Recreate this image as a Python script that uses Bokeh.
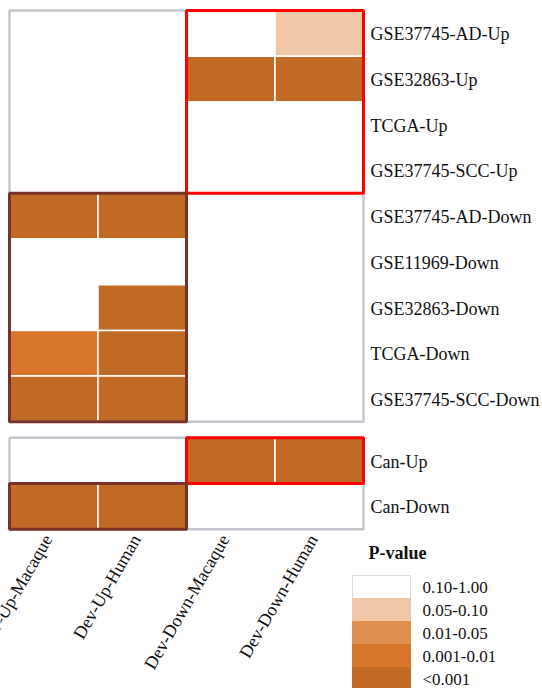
import math
from bokeh.plotting import figure
from bokeh.models import ColumnDataSource, Range1d
from bokeh.core.properties import value
from bokeh.embed import file_html
from bokeh.resources import INLINE

# ---------------- data ----------------
columns = ["Dev-Up-Macaque", "Dev-Up-Human", "Dev-Down-Macaque", "Dev-Down-Human"]

top_rows = ["GSE37745-AD-Up", "GSE32863-Up", "TCGA-Up", "GSE37745-SCC-Up",
            "GSE37745-AD-Down", "GSE11969-Down", "GSE32863-Down", "TCGA-Down",
            "GSE37745-SCC-Down"]
bottom_rows = ["Can-Up", "Can-Down"]

legend_labels = ["0.10-1.00", "0.05-0.10", "0.01-0.05", "0.001-0.01", "<0.001"]
legend_colors = ["#ffffff", "#f0c8a7", "#e08f50", "#d7752a", "#c06a25"]

# p-value class (index into legend_labels) per row, per column
top_levels = [
    [0, 0, 0, 1],
    [0, 0, 4, 4],
    [0, 0, 0, 0],
    [0, 0, 0, 0],
    [4, 4, 0, 0],
    [0, 0, 0, 0],
    [0, 4, 0, 0],
    [3, 4, 0, 0],
    [4, 4, 0, 0],
]
bottom_levels = [
    [0, 0, 4, 4],
    [4, 4, 0, 0],
]

# highlighted groups: (panel, row names, column names, colour)
highlight_groups = [
    ("top", ["GSE37745-AD-Up", "GSE32863-Up", "TCGA-Up", "GSE37745-SCC-Up"],
     ["Dev-Down-Macaque", "Dev-Down-Human"], "#ff0000"),
    ("top", ["GSE37745-AD-Down", "GSE11969-Down", "GSE32863-Down", "TCGA-Down", "GSE37745-SCC-Down"],
     ["Dev-Up-Macaque", "Dev-Up-Human"], "#7a3127"),
    ("bottom", ["Can-Up"], ["Dev-Down-Macaque", "Dev-Down-Human"], "#ff0000"),
    ("bottom", ["Can-Down"], ["Dev-Up-Macaque", "Dev-Up-Human"], "#7a3127"),
]

# ---------------- layout (pixels) ----------------
W, H = 542, 688
LEFT_PX, TOP_PX = 9.0, 10.0
CW, RH = 88.5, 45.7
GAP = 16.0 / RH

SERIF = value("Liberation Serif")

p = figure(width=W, height=H, output_backend="svg", toolbar_location=None,
           x_axis_type=None, y_axis_type=None,
           x_range=Range1d(-LEFT_PX / CW, (W - LEFT_PX) / CW),
           y_range=Range1d((H - TOP_PX) / RH, -TOP_PX / RH),
           min_border=0, min_border_left=0, min_border_right=0,
           min_border_top=0, min_border_bottom=0)
p.outline_line_color = None
p.grid.visible = False
p.background_fill_color = "white"
p.border_fill_color = "white"

n_top = len(top_rows)
bottom_start = n_top + GAP
panel_start = {"top": 0.0, "bottom": bottom_start}
panel_rows = {"top": top_rows, "bottom": bottom_rows}

# ---------------- cells ----------------
cx, cy, cc = [], [], []
for panel, rows, levels in (("top", top_rows, top_levels), ("bottom", bottom_rows, bottom_levels)):
    for i, row in enumerate(rows):
        for j, col in enumerate(columns):
            cx.append(j + 0.5)
            cy.append(panel_start[panel] + i + 0.5)
            cc.append(legend_colors[levels[i][j]])
p.rect(x="x", y="y", width=1, height=1, fill_color="c", line_color="white",
       line_width=1.5, source=ColumnDataSource(dict(x=cx, y=cy, c=cc)))

# ---------------- panel borders ----------------
bx, by, bh = [], [], []
for panel in ("top", "bottom"):
    n = len(panel_rows[panel])
    bx.append(len(columns) / 2)
    by.append(panel_start[panel] + n / 2)
    bh.append(n)
p.rect(x="x", y="y", width=len(columns), height="h", fill_color=None,
       line_color="#c6c6ce", line_width=2.5,
       source=ColumnDataSource(dict(x=bx, y=by, h=bh)))

# ---------------- highlight boxes ----------------
hx, hy, hw, hh, hc = [], [], [], [], []
for panel, rnames, cnames, color in highlight_groups:
    rows = panel_rows[panel]
    r0 = min(rows.index(r) for r in rnames)
    r1 = max(rows.index(r) for r in rnames) + 1
    c0 = min(columns.index(c) for c in cnames)
    c1 = max(columns.index(c) for c in cnames) + 1
    hx.append((c0 + c1) / 2)
    hy.append(panel_start[panel] + (r0 + r1) / 2)
    hw.append(c1 - c0)
    hh.append(r1 - r0)
    hc.append(color)
p.rect(x="x", y="y", width="w", height="h", fill_color=None, line_color="c",
       line_width=3, source=ColumnDataSource(dict(x=hx, y=hy, w=hw, h=hh, c=hc)))

# ---------------- row labels (right) ----------------
lx, ly, lt = [], [], []
for panel in ("top", "bottom"):
    for i, r in enumerate(panel_rows[panel]):
        lx.append(len(columns) + 7.0 / CW)
        ly.append(panel_start[panel] + i + 0.5 + 1.0 / RH)
        lt.append(r)
p.text(x="x", y="y", text="t", source=ColumnDataSource(dict(x=lx, y=ly, t=lt)),
       text_font=SERIF, text_font_size="18px", text_color="#111111",
       text_align="left", text_baseline="middle")

# ---------------- column labels (rotated) ----------------
bottom_end = bottom_start + len(bottom_rows)
xl_x = [j + 0.5 - 6.0 / CW for j in range(len(columns))]
xl_y = [bottom_end + 7.0 / RH] * len(columns)
p.text(x="x", y="y", text="t",
       source=ColumnDataSource(dict(x=xl_x, y=xl_y, t=columns)),
       angle=math.pi / 3, text_font=SERIF, text_font_size="18px",
       text_color="#111111", text_align="right", text_baseline="middle")

# ---------------- legend ----------------
leg_left = (352 - LEFT_PX) / CW
leg_w = 58.0 / CW
leg_top = (575 - TOP_PX) / RH
leg_h = 23.0 / RH
p.text(x=[(368 - LEFT_PX) / CW], y=[(552 - TOP_PX) / RH], text=["P-value"],
       text_font=SERIF, text_font_size="18px", text_font_style="bold",
       text_color="#111111", text_align="left", text_baseline="middle")
lgx = [leg_left + leg_w / 2] * len(legend_labels)
lgy = [leg_top + (k + 0.5) * leg_h for k in range(len(legend_labels))]
lgline = ["#dcdcdc"] + legend_colors[1:]
p.rect(x="x", y="y", width=leg_w, height=leg_h, fill_color="c", line_color="lc",
       line_width=1,
       source=ColumnDataSource(dict(x=lgx, y=lgy, c=legend_colors, lc=lgline)))
p.text(x="x", y="y", text="t",
       source=ColumnDataSource(dict(x=[(422 - LEFT_PX) / CW] * len(legend_labels),
                                    y=lgy, t=legend_labels)),
       text_font=SERIF, text_font_size="17px", text_color="#111111",
       text_align="left", text_baseline="middle")

open("out.html", "w").write(file_html(p, INLINE))
